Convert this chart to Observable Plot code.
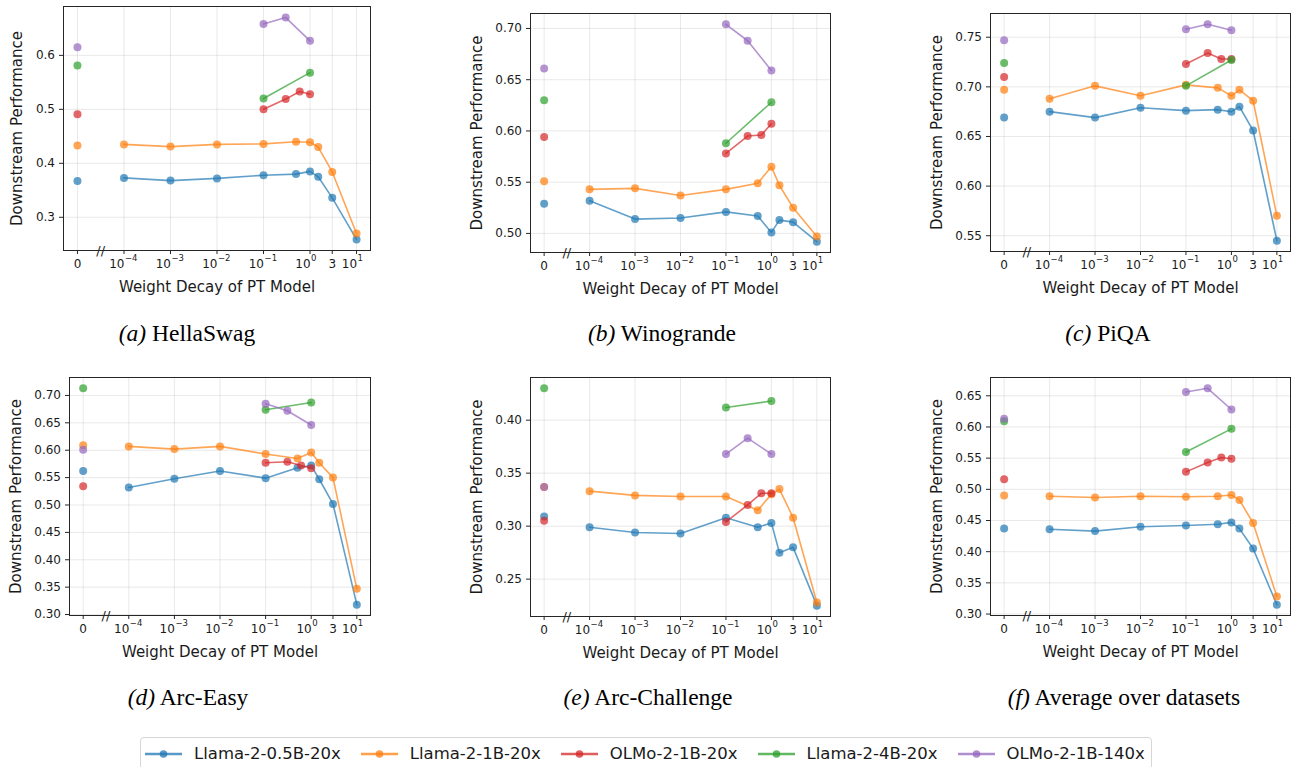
<!DOCTYPE html>
<html>
<head>
<meta charset="utf-8">
<script src="https://cdn.jsdelivr.net/npm/d3@7"></script>
<script src="https://cdn.jsdelivr.net/npm/@observablehq/plot@0.6"></script>
<style>
html, body { margin: 0; padding: 0; background: #fff; overflow: hidden; }
#page { position: relative; width: 1294px; height: 767px; overflow: hidden; background: #fff; }
.panel { position: absolute; }
.panel svg { max-width: none !important; }
.cap { position: absolute; font-family: "Liberation Serif", "Times New Roman", serif; font-size: 23.5px; line-height: 24px; white-space: nowrap; transform: translateX(-50%); color: #000; }
.legend { position: absolute; left: 140px; top: 737px; width: 1012px; height: 33px; border: 1px solid #d6d6d6; border-radius: 4px; box-sizing: border-box; font-family: "DejaVu Sans", sans-serif; font-size: 16.5px; color: #1a1a1a; display: flex; align-items: center; padding-left: 4px; }
.item { display: flex; align-items: center; margin-right: 20px; white-space: nowrap; }
.item svg { margin-right: 12px; }
</style>
</head>
<body>
<div id="page"></div>
<script>
// ---------- data ----------
const seriesNames = ["Llama-2-0.5B-20x", "Llama-2-1B-20x", "OLMo-2-1B-20x", "Llama-2-4B-20x", "OLMo-2-1B-140x"];
const seriesColors = ["#1f77b4", "#ff7f0e", "#d62728", "#2ca02c", "#9467bd"];

// weight decay values of each series (0 = no weight decay)
const wdLlama05 = [0, 1e-4, 1e-3, 1e-2, 0.1, 0.5, 1, 1.5, 3, 10];
const wdLlama1 = [0, 1e-4, 1e-3, 1e-2, 0.1, 0.5, 1, 1.5, 3, 10];
const wdOlmo20 = [0, 0.1, 0.3, 0.6, 1];
const wdLlama4 = [0, 0.1, 1];
const wdOlmo140 = [0, 0.1, 0.3, 1];
const seriesWd = [wdLlama05, wdLlama1, wdOlmo20, wdLlama4, wdOlmo140];

// x tick labels: base and (superscript) exponent
const xTickValues = [0, 1e-4, 1e-3, 1e-2, 0.1, 1, 3, 10];
const xTickBase = ["0", "10", "10", "10", "10", "10", "3", "10"];
const xTickExp = ["", "−4", "−3", "−2", "−1", "0", "", "1"];

// values per series, in the order of seriesNames
const hellaswag = [
  [0.367, 0.373, 0.368, 0.372, 0.378, 0.380, 0.385, 0.375, 0.336, 0.259],
  [0.433, 0.435, 0.431, 0.435, 0.436, 0.440, 0.439, 0.430, 0.384, 0.270],
  [0.491, 0.500, 0.519, 0.533, 0.528],
  [0.581, 0.520, 0.568],
  [0.615, 0.658, 0.670, 0.627]
];
const winogrande = [
  [0.529, 0.532, 0.514, 0.515, 0.521, 0.517, 0.501, 0.513, 0.511, 0.492],
  [0.551, 0.543, 0.544, 0.537, 0.543, 0.549, 0.565, 0.547, 0.525, 0.497],
  [0.594, 0.578, 0.595, 0.596, 0.607],
  [0.630, 0.588, 0.628],
  [0.661, 0.704, 0.688, 0.659]
];
const piqa = [
  [0.669, 0.675, 0.669, 0.679, 0.676, 0.677, 0.675, 0.680, 0.656, 0.545],
  [0.697, 0.688, 0.701, 0.691, 0.702, 0.699, 0.691, 0.697, 0.686, 0.570],
  [0.710, 0.723, 0.734, 0.728, 0.728],
  [0.724, 0.701, 0.727],
  [0.747, 0.758, 0.763, 0.757]
];
const arcEasy = [
  [0.562, 0.532, 0.548, 0.562, 0.549, 0.568, 0.572, 0.547, 0.502, 0.318],
  [0.609, 0.607, 0.602, 0.607, 0.593, 0.585, 0.596, 0.577, 0.550, 0.347],
  [0.534, 0.577, 0.579, 0.572, 0.567],
  [0.713, 0.674, 0.687],
  [0.601, 0.685, 0.672, 0.646]
];
const arcChallenge = [
  [0.309, 0.299, 0.294, 0.293, 0.308, 0.299, 0.303, 0.275, 0.280, 0.225],
  [0.337, 0.333, 0.329, 0.328, 0.328, 0.315, 0.330, 0.335, 0.308, 0.228],
  [0.305, 0.304, 0.320, 0.331, 0.331],
  [0.430, 0.412, 0.418],
  [0.337, 0.368, 0.383, 0.368]
];
const average = [
  [0.437, 0.436, 0.433, 0.440, 0.442, 0.444, 0.447, 0.437, 0.405, 0.315],
  [0.490, 0.489, 0.487, 0.489, 0.488, 0.489, 0.491, 0.483, 0.446, 0.328],
  [0.516, 0.528, 0.543, 0.551, 0.549],
  [0.609, 0.560, 0.597],
  [0.613, 0.656, 0.662, 0.628]
];

const hellaswagTicks = [0.3, 0.4, 0.5, 0.6];
const winograndeTicks = [0.50, 0.55, 0.60, 0.65, 0.70];
const piqaTicks = [0.55, 0.60, 0.65, 0.70, 0.75];
const arcEasyTicks = [0.30, 0.35, 0.40, 0.45, 0.50, 0.55, 0.60, 0.65, 0.70];
const arcChallengeTicks = [0.25, 0.30, 0.35, 0.40];
const averageTicks = [0.30, 0.35, 0.40, 0.45, 0.50, 0.55, 0.60, 0.65];

const captionLetters = ["(a)", "(b)", "(c)", "(d)", "(e)", "(f)"];
const captionNames = ["HellaSwag", "Winogrande", "PiQA", "Arc-Easy", "Arc-Challenge", "Average over datasets"];

// ---------- layout ----------
const panels = [
  {vals: hellaswag, ticks: hellaswagTicks, fmt: ".1f", L: 63, T: 6, W: 307, H: 244, yl: 46, cx: 187, cy: 333},
  {vals: winogrande, ticks: winograndeTicks, fmt: ".2f", L: 530, T: 13, W: 300, H: 239, yl: 53, cx: 662, cy: 333},
  {vals: piqa, ticks: piqaTicks, fmt: ".2f", L: 990, T: 13, W: 300, H: 238, yl: 53, cx: 1108, cy: 333},
  {vals: arcEasy, ticks: arcEasyTicks, fmt: ".2f", L: 69, T: 377, W: 301, H: 238, yl: 53, cx: 188, cy: 697},
  {vals: arcChallenge, ticks: arcChallengeTicks, fmt: ".2f", L: 530, T: 377, W: 300, H: 239, yl: 53, cx: 648, cy: 697},
  {vals: average, ticks: averageTicks, fmt: ".2f", L: 990, T: 377, W: 300, H: 238, yl: 53, cx: 1124, cy: 697}
];

// 0 is drawn one decade left of 10^-4 on the log axis (broken axis)
const zeroStandIn = 1e-5;
const xPos = w => (w === 0 ? zeroStandIn : w);
const xTicks = xTickValues.map((v, i) => ({p: xPos(v), base: xTickBase[i], exp: xTickExp[i]}));
const plainTicks = xTicks.filter(t => t.exp === "");
const powTicks = xTicks.filter(t => t.exp !== "");
const breakAt = Math.pow(10, -4.5);

const ML = 75, MR = 10, MT = 10, MB = 55;
const page = document.getElementById("page");
const textColor = "#1a1a1a";

panels.forEach((p, k) => {
  const rows = [];
  p.vals.forEach((vs, s) => vs.forEach((v, i) => rows.push({s, wd: seriesWd[s][i], v})));
  const [lo, hi] = d3.extent(rows, d => d.v);
  const pad = (hi - lo) * 0.05;

  const seriesMarks = [];
  seriesNames.forEach((name, s) => {
    const r = rows.filter(d => d.s === s);
    seriesMarks.push(Plot.line(r.filter(d => d.wd > 0), {x: d => xPos(d.wd), y: "v", stroke: seriesColors[s], strokeWidth: 1.6, strokeOpacity: 0.7}));
    seriesMarks.push(Plot.dot(r, {x: d => xPos(d.wd), y: "v", r: 4, fill: seriesColors[s], fillOpacity: 0.7, stroke: "none"}));
  });

  const width = p.W + ML + MR, height = p.H + MT + MB;
  const chart = Plot.plot({
    width, height,
    marginLeft: ML, marginRight: MR, marginTop: MT, marginBottom: MB,
    style: {fontFamily: "DejaVu Sans", background: "transparent", overflow: "visible", maxWidth: "none"},
    x: {type: "log", domain: [Math.pow(10, -5.3), Math.pow(10, 1.3)]},
    y: {domain: [lo - pad, hi + pad]},
    marks: [
      Plot.gridX(xTicks.map(t => t.p), {stroke: "#b0b0b0", strokeOpacity: 0.35, strokeWidth: 0.8}),
      Plot.gridY(p.ticks, {stroke: "#b0b0b0", strokeOpacity: 0.35, strokeWidth: 0.8}),
      ...seriesMarks,
      Plot.frame({stroke: "#262626", strokeWidth: 1}),
      Plot.axisX(xTicks.map(t => t.p), {tickSize: 4, tickPadding: 4.5, fontSize: 12, fill: textColor, stroke: "#262626", label: null, tickFormat: () => ""}),
      Plot.text(plainTicks, {x: "p", text: "base", frameAnchor: "bottom", lineAnchor: "top", dy: 8.5, fontSize: 12, fill: textColor}),
      Plot.text(powTicks, {x: "p", text: "base", frameAnchor: "bottom", lineAnchor: "top", textAnchor: "end", dx: 0.5, dy: 8.5, fontSize: 12, fill: textColor}),
      Plot.text(powTicks, {x: "p", text: "exp", frameAnchor: "bottom", lineAnchor: "top", textAnchor: "start", dx: 1, dy: 4.5, fontSize: 8.5, fill: textColor}),
      Plot.axisY(p.ticks, {tickSize: 4, tickPadding: 4.5, fontSize: 12, fill: textColor, stroke: "#262626", label: null, tickFormat: d3.format(p.fmt)}),
      Plot.text(["//"], {x: () => breakAt, frameAnchor: "bottom", text: d => d, fontSize: 13, lineAnchor: "middle", fill: "#262626"}),
      Plot.text(["Weight Decay of PT Model"], {frameAnchor: "bottom", text: d => d, dy: 37, lineAnchor: "middle", fontSize: 15, fill: textColor}),
      Plot.text(["Downstream Performance"], {frameAnchor: "left", text: d => d, dx: -p.yl, rotate: -90, textAnchor: "middle", lineAnchor: "middle", fontSize: 15, fill: textColor})
    ]
  });
  const wrap = document.createElement("div");
  wrap.className = "panel";
  wrap.style.left = (p.L - ML) + "px";
  wrap.style.top = (p.T - MT) + "px";
  wrap.style.width = width + "px";
  wrap.style.height = height + "px";
  wrap.appendChild(chart);
  page.appendChild(wrap);

  const cap = document.createElement("div");
  cap.className = "cap";
  cap.style.left = p.cx + "px";
  cap.style.top = (p.cy - 12) + "px";
  const it = document.createElement("i");
  it.textContent = captionLetters[k];
  cap.appendChild(it);
  cap.appendChild(document.createTextNode(" " + captionNames[k]));
  page.appendChild(cap);
});

// ---------- legend ----------
const legend = document.createElement("div");
legend.className = "legend";
seriesNames.forEach((name, s) => {
  const item = document.createElement("div");
  item.className = "item";
  const ns = "http://www.w3.org/2000/svg";
  const svg = document.createElementNS(ns, "svg");
  svg.setAttribute("width", 37); svg.setAttribute("height", 12);
  const ln = document.createElementNS(ns, "line");
  ln.setAttribute("x1", 0); ln.setAttribute("x2", 37); ln.setAttribute("y1", 6); ln.setAttribute("y2", 6);
  ln.setAttribute("stroke", seriesColors[s]); ln.setAttribute("stroke-width", 2.6); ln.setAttribute("stroke-opacity", 0.75);
  const c = document.createElementNS(ns, "circle");
  c.setAttribute("cx", 18.5); c.setAttribute("cy", 6); c.setAttribute("r", 3.8);
  c.setAttribute("fill", seriesColors[s]); c.setAttribute("fill-opacity", 0.75);
  svg.appendChild(ln); svg.appendChild(c);
  item.appendChild(svg);
  const t = document.createElement("span");
  t.textContent = name;
  item.appendChild(t);
  legend.appendChild(item);
});
page.appendChild(legend);
</script>
</body>
</html>
